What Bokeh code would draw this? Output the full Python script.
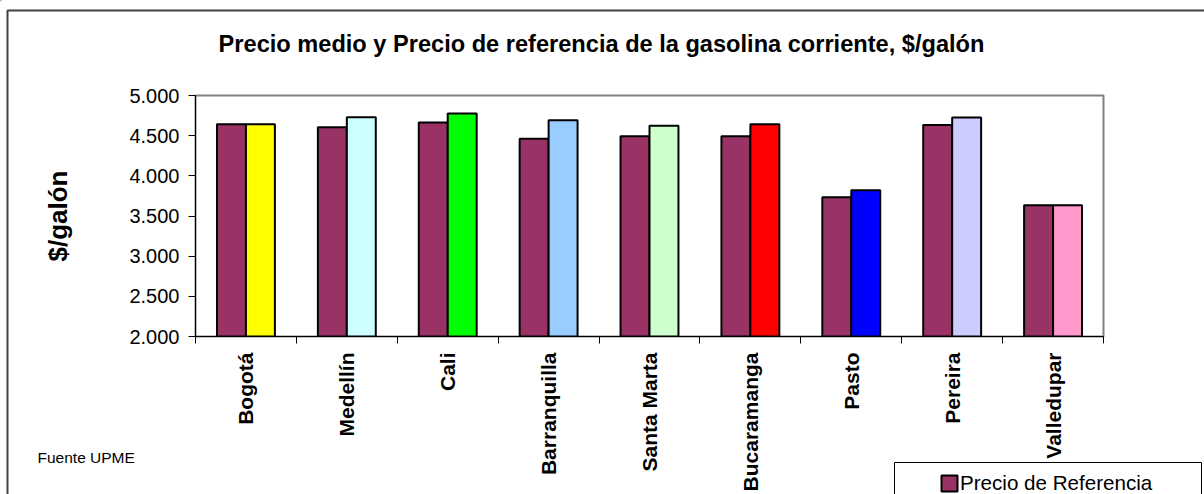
import math
import numpy as np
from bokeh.plotting import figure
from bokeh.models import (Range1d, FixedTicker, Label, Legend, LegendItem,
                          BoxAnnotation, ColumnDataSource, GridBox)
from bokeh.embed import file_html
from bokeh.resources import INLINE

# ---------------- data ----------------
cities = ["Bogotá", "Medellín", "Cali", "Barranquilla", "Santa Marta",
          "Bucaramanga", "Pasto", "Pereira", "Valledupar"]
precio_referencia = [4641, 4604, 4663, 4463, 4492, 4492, 3733, 4633, 3633]
precio_medio = [4641, 4729, 4775, 4692, 4625, 4641, 3821, 4725, 3633]
colores_medio = ["#FFFF00", "#CCFFFF", "#00FF00", "#99CCFF", "#CCFFCC",
                 "#FF0000", "#0000FF", "#CCCCFF", "#FF99CC"]
color_referencia = "#993366"
y_ticks = [2000, 2500, 3000, 3500, 4000, 4500, 5000]
y_tick_labels = ["2.000", "2.500", "3.000", "3.500", "4.000", "4.500", "5.000"]
Y_MIN, Y_MAX = 2000, 5000
title_text = "Precio medio y Precio de referencia de la gasolina corriente, $/galón"
y_label = "$/galón"
source_text = "Fuente UPME"
legend_label = "Precio de Referencia"

# ---------------- layout ----------------
FONT = "Liberation Sans"
W, H = 1204, 494
FRAME_L, FRAME_R, FRAME_T, FRAME_B = 195, 1103, 95, 336   # page pixels

n = len(cities)
centers = np.arange(n) + 0.5
bar_w = 0.287

# ---------- main chart ----------
p = figure(width=W, height=H, output_backend="svg", toolbar_location=None,
           x_range=Range1d(0, n), y_range=Range1d(Y_MIN, Y_MAX),
           min_border_left=FRAME_L, min_border_right=W - FRAME_R,
           min_border_top=FRAME_T, min_border_bottom=H - FRAME_B)
p.frame_align = False
p.xgrid.visible = False
p.ygrid.visible = False
p.outline_line_color = "#808080"
p.outline_line_width = 2
p.background_fill_color = "white"
p.border_fill_color = "white"

src = ColumnDataSource(dict(x_ref=centers - bar_w / 2, x_med=centers + bar_w / 2,
                            ref=precio_referencia, med=precio_medio,
                            col=colores_medio))
bar_style = dict(line_color="black", line_width=2)
p.vbar(x="x_ref", top="ref", bottom=Y_MIN, width=bar_w, source=src,
       fill_color=color_referencia, **bar_style)
p.vbar(x="x_med", top="med", bottom=Y_MIN, width=bar_w, source=src,
       fill_color="col", **bar_style)

# y axis
ya = p.yaxis[0]
ya.ticker = FixedTicker(ticks=y_ticks, minor_ticks=[])
ya.major_label_overrides = dict(zip(y_ticks, y_tick_labels))
ya.major_tick_out = 7
ya.major_tick_in = 0
ya.minor_tick_out = 0
ya.minor_tick_in = 0
ya.axis_line_color = "black"
ya.major_tick_line_color = "black"
ya.major_label_text_font = FONT
ya.major_label_text_font_size = "20px"
ya.major_label_text_color = "black"
ya.major_label_standoff = 9
ya.axis_label = y_label
ya.axis_label_text_font = FONT
ya.axis_label_text_font_style = "bold"
ya.axis_label_text_font_size = "26px"
ya.axis_label_text_color = "black"
ya.axis_label_standoff = 53

# x axis: city names at centres, tick marks at category boundaries
xa = p.xaxis[0]
xa.ticker = FixedTicker(ticks=[float(c) for c in centers],
                        minor_ticks=[float(i) for i in range(n + 1)])
xa.major_label_overrides = {float(c): city for c, city in zip(centers, cities)}
xa.major_tick_out = 0
xa.major_tick_in = 0
xa.minor_tick_out = 7
xa.minor_tick_in = 0
xa.axis_line_color = "black"
xa.minor_tick_line_color = "black"
xa.major_label_orientation = math.pi / 2
xa.major_label_text_font = FONT
xa.major_label_text_font_style = "bold"
xa.major_label_text_font_size = "21px"
xa.major_label_text_color = "black"
xa.major_label_standoff = 9

# ---------- transparent overlay in page pixels (title, note, frame, legend) ----------
ov = figure(width=W, height=H, output_backend="svg", toolbar_location=None,
            x_range=Range1d(0, W), y_range=Range1d(H, 0),
            x_axis_location=None, y_axis_location=None, min_border=0)
ov.frame_align = False
ov.xgrid.visible = False
ov.ygrid.visible = False
ov.outline_line_color = None
ov.background_fill_color = None
ov.border_fill_color = None

ov.add_layout(BoxAnnotation(left=7, right=W + 50, top=10, bottom=H + 50,
                            fill_alpha=0, line_color="#404040", line_alpha=1,
                            line_width=2))
ov.add_layout(Label(x=601, y=43, text=title_text, text_align="center",
                    text_baseline="middle", text_font=FONT, text_font_style="bold",
                    text_font_size="23.6px", text_color="black"))
ov.add_layout(Label(x=37, y=457, text=source_text, text_align="left",
                    text_baseline="middle", text_font=FONT, text_font_size="15.5px",
                    text_color="black"))
# legend box
ov.add_layout(BoxAnnotation(left=894, right=1201, top=462, bottom=H + 50,
                            fill_color="white", fill_alpha=1, line_color="black",
                            line_alpha=1, line_width=1))
# legend swatch renderer (its single bar lies outside the overlay's view)
leg_src = ColumnDataSource(dict(x=[-100.0], top=[-100.0]))
r_leg = ov.vbar(x="x", top="top", bottom=-200, width=1, source=leg_src,
                fill_color=color_referencia, **bar_style)
legend = Legend(items=[LegendItem(label=legend_label, renderers=[r_leg])],
                location=(939, H - 495), orientation="vertical",
                padding=0, margin=0, spacing=0, glyph_width=20, glyph_height=20,
                label_height=20, label_standoff=1,
                label_text_font=FONT, label_text_font_size="20.6px",
                label_text_color="black", border_line_color=None,
                background_fill_alpha=0)
ov.add_layout(legend)

layout = GridBox(children=[(p, 0, 0), (ov, 0, 0)])

open("out.html", "w").write(file_html(layout, INLINE))
